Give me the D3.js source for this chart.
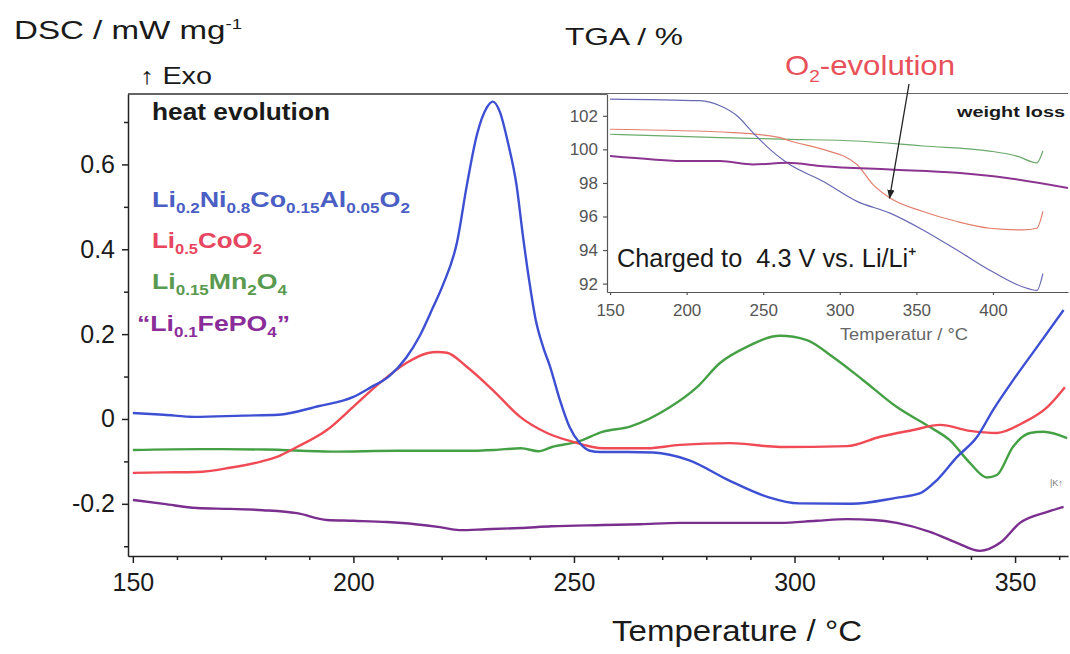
<!DOCTYPE html>
<html>
<head>
<meta charset="utf-8">
<script src="https://cdn.jsdelivr.net/npm/d3@7"></script>
<style>
  body { margin: 0; background: #fff; }
  svg { display: block; font-family: "Liberation Sans", Arial, sans-serif; }
</style>
</head>
<body>
<div id="chart"></div>
<script>
// DSC traces: [temperature °C, heat flow mW/mg]
const dscNCA = [[150, 0.014], [157, 0.010], [164, 0.005], [175, 0.008], [183, 0.010], [192, 0.030], [200, 0.052],
  [204, 0.075], [208, 0.10], [212, 0.145], [215, 0.195], [218, 0.262], [220.3, 0.316], [223.5, 0.417], [225.7, 0.55], [228, 0.67],
  [230.3, 0.735], [231.6, 0.748], [233.2, 0.724], [235, 0.653], [237, 0.55], [238.4, 0.434], [240, 0.316], [241.3, 0.235],
  [243, 0.17], [244.6, 0.123], [246.8, 0.045], [249, -0.019], [251.4, -0.058], [253.6, -0.075], [256, -0.078], [262, -0.078],
  [268, -0.079], [276, -0.097], [285, -0.144], [294, -0.184], [301, -0.199], [313, -0.2], [323, -0.186], [328.5, -0.175],
  [332.3, -0.144], [336.8, -0.09], [341.4, -0.042], [345, 0.021], [349.6, 0.092], [355, 0.17], [361, 0.257]];
const dscLCO = [[150, -0.127], [157, -0.126], [164.5, -0.125], [172, -0.115], [178.8, -0.101], [183, -0.088], [187.2, -0.066],
  [194, -0.026], [199.9, 0.028], [206, 0.085], [212, 0.132], [216.7, 0.155], [219, 0.158], [221.2, 0.156], [225.7, 0.123],
  [231.6, 0.068], [237.8, 0.005], [243.9, -0.033], [249.8, -0.054], [256.6, -0.069], [266.6, -0.069], [274, -0.061],
  [285.4, -0.057], [296.7, -0.066], [311.9, -0.064], [319.4, -0.042], [326.9, -0.026], [333, -0.014], [339.8, -0.028],
  [345.9, -0.033], [351.8, -0.009], [357.3, 0.028], [361.3, 0.075]];
const dscLMO = [[150, -0.073], [165, -0.071], [180, -0.072], [195, -0.077], [210, -0.075], [225, -0.075], [232, -0.073],
  [238, -0.069], [242, -0.076], [245, -0.066], [250.7, -0.054], [256.6, -0.030], [262.7, -0.018], [271.8, 0.028],
  [277.9, 0.075], [283.1, 0.132], [289.2, 0.17], [296.7, 0.196], [302.8, 0.186], [308.7, 0.146], [315.5, 0.092],
  [323.2, 0.028], [330.7, -0.019], [335.2, -0.05], [339.8, -0.104], [343.6, -0.138], [345.9, -0.132], [349.5, -0.066],
  [353.4, -0.033], [356.4, -0.03], [361.8, -0.045]];
const dscLFP = [[150, -0.191], [157, -0.2], [164.5, -0.21], [172, -0.212], [179.5, -0.215], [187.2, -0.222], [194, -0.238],
  [200, -0.24], [207.6, -0.243], [214, -0.248], [219.6, -0.255], [224, -0.262], [230, -0.26], [237.8, -0.257], [245, -0.253],
  [256.6, -0.25], [265, -0.248], [274, -0.245], [285, -0.245], [296.7, -0.245], [305, -0.24], [311.9, -0.236], [318, -0.238],
  [323.2, -0.245], [330.7, -0.266], [336.8, -0.292], [342, -0.311], [346.6, -0.292], [351.1, -0.245], [357.3, -0.219], [361, -0.207]];

// TGA traces (inset): [temperature °C, mass %]
const tgaNCA = [[150, 103.0], [208.7, 102.9], [221.8, 102.6], [232.9, 102.0], [243.3, 101.0], [254.4, 100.0], [265.5, 99.2],
  [289, 98.1], [311.2, 96.9], [332.8, 96.2], [354.3, 95.2], [376.5, 94.0], [398, 92.8], [419.6, 91.8], [428.7, 91.6], [432.6, 92.6]];
const tgaLCO = [[150, 101.2], [230.3, 101.0], [261, 100.7], [267.5, 100.5], [289, 100.0], [311.2, 99.1], [321.7, 97.9],
  [332.8, 97.1], [354.3, 96.3], [376.5, 95.7], [398, 95.3], [419.6, 95.2], [428.7, 95.3], [432.6, 96.3]];
const tgaLMO = [[150, 100.9], [221.8, 100.7], [267.5, 100.6], [311.2, 100.5], [354.3, 100.2], [398, 99.9], [415.7, 99.6],
  [428.7, 99.2], [432.6, 99.9]];
const tgaLFP = [[150, 99.6], [178, 99.4], [200.3, 99.3], [221.8, 99.3], [243.3, 99.1], [265.5, 99.2], [289, 99.0],
  [332.8, 98.8], [376.5, 98.6], [409.1, 98.3], [449, 97.7]];

const dscTicks = [-0.2, 0, 0.2, 0.4, 0.6];
const dscMinor = [-0.3, -0.1, 0.1, 0.3, 0.5, 0.7];
const tempTicks = [150, 200, 250, 300, 350];
const tempMinor = d3.range(160, 361, 10).filter(t => t % 50 !== 0);
const tgaTicks = [92, 94, 96, 98, 100, 102];
const tgaTempTicks = [150, 200, 250, 300, 350, 400];

const legendLabels = [
  [["Li"], ["0.2", "sub"], ["Ni"], ["0.8", "sub"], ["Co"], ["0.15", "sub"], ["Al"], ["0.05", "sub"], ["O"], ["2", "sub"]],
  [["Li"], ["0.5", "sub"], ["CoO"], ["2", "sub"]],
  [["Li"], ["0.15", "sub"], ["Mn"], ["2", "sub"], ["O"], ["4", "sub"]],
  [["\u201CLi"], ["0.1", "sub"], ["FePO"], ["4", "sub"], ["\u201D"]]
];

const width = 1070, height = 654;

const svg = d3.select("#chart").append("svg")
  .attr("width", width)
  .attr("height", height);

const x = d3.scaleLinear().domain([148.9, 362]).range([128, 1068]);
const y = d3.scaleLinear().domain([-0.323, 0.766]).range([556, 94]);

const xi = d3.scaleLinear().domain([148, 449]).range([607, 1068]);
const yi = d3.scaleLinear().domain([91.5, 103.3]).range([292, 94]);

const defs = svg.append("defs");
defs.append("clipPath").attr("id", "plotclip")
  .append("rect")
  .attr("x", x.range()[0]).attr("y", y.range()[1])
  .attr("width", x.range()[1] - x.range()[0]).attr("height", y.range()[0] - y.range()[1]);

defs.append("marker")
  .attr("id", "head").attr("viewBox", "0 0 10 10")
  .attr("refX", 9).attr("refY", 5)
  .attr("markerWidth", 7).attr("markerHeight", 7)
  .attr("orient", "auto")
  .append("path").attr("d", "M0,1 L10,5 L0,9 Z").attr("fill", "#222");

// rich text with subscripts
function richText(sel, parts, subSize, shift) {
  let down = false;
  parts.forEach(p => {
    const t = sel.append("tspan").text(p[0]);
    if (p[1] === "sub") {
      t.attr("font-size", subSize);
      if (!down) t.attr("dy", shift);
      down = true;
    } else if (down) {
      t.attr("dy", -shift);
      down = false;
    }
  });
}

// text stretched to the width it has in the figure
function fitText(px, py, size, len) {
  return svg.append("text").attr("x", px).attr("y", py)
    .attr("font-size", size).attr("fill", "#1a1a1a")
    .attr("textLength", len).attr("lengthAdjust", "spacingAndGlyphs");
}

// main DSC curves
const line = d3.line().x(d => x(d[0])).y(d => y(d[1])).curve(d3.curveMonotoneX);
const dscSeries = [
  { data: dscLFP, color: "#7a2e8e" },
  { data: dscLMO, color: "#45a045" },
  { data: dscLCO, color: "#f04a55" },
  { data: dscNCA, color: "#3d4fd2" }
];
svg.append("g").attr("clip-path", "url(#plotclip)")
  .selectAll("path")
  .data(dscSeries)
  .join("path")
  .attr("d", d => line(d.data))
  .attr("fill", "none")
  .attr("stroke", d => d.color)
  .attr("stroke-width", 2.4)
  .attr("stroke-linejoin", "round");

// axes
const gx = svg.append("g").attr("transform", `translate(0,${y.range()[0]})`)
  .call(d3.axisBottom(x).tickValues(tempTicks).tickSize(7).tickSizeOuter(0).tickPadding(10));
svg.append("g").attr("transform", `translate(0,${y.range()[0]})`)
  .call(d3.axisBottom(x).tickValues(tempMinor).tickSize(4).tickFormat("")).select(".domain").remove();
const gy = svg.append("g").attr("transform", `translate(${x.range()[0]},0)`)
  .call(d3.axisLeft(y).tickValues(dscTicks).tickSize(6).tickSizeOuter(0).tickPadding(7)
    .tickFormat(d => d === 0 ? "0" : d.toFixed(1)));
svg.append("g").attr("transform", `translate(${x.range()[0]},0)`)
  .call(d3.axisLeft(y).tickValues(dscMinor).tickSize(4).tickFormat("")).select(".domain").remove();

svg.selectAll(".domain, .tick line").attr("stroke", "#222").attr("stroke-width", 1.5);
[gx, gy].forEach(g => g.selectAll("text").attr("font-size", 25).attr("fill", "#1a1a1a")
  .attr("font-family", "Liberation Sans, Arial, sans-serif"));

svg.append("line")
  .attr("x1", x.range()[0]).attr("x2", x.range()[1])
  .attr("y1", y.range()[1]).attr("y2", y.range()[1])
  .attr("stroke", "#333").attr("stroke-width", 1.5);

// inset TGA
svg.append("rect")
  .attr("x", xi.range()[0]).attr("y", yi.range()[1])
  .attr("width", xi.range()[1] - xi.range()[0]).attr("height", yi.range()[0] - yi.range()[1])
  .attr("fill", "#fff");

const iline = d3.line().x(d => xi(d[0])).y(d => yi(d[1])).curve(d3.curveMonotoneX);
const tgaSeries = [
  { data: tgaLMO, color: "#6aaa6a", w: 1.2 },
  { data: tgaLCO, color: "#e2806e", w: 1.2 },
  { data: tgaNCA, color: "#6868b4", w: 1.2 },
  { data: tgaLFP, color: "#8b3590", w: 2 }
];
svg.append("g").selectAll("path")
  .data(tgaSeries)
  .join("path")
  .attr("d", d => iline(d.data))
  .attr("fill", "none")
  .attr("stroke", d => d.color)
  .attr("stroke-width", d => d.w);

const gyi = svg.append("g").attr("transform", `translate(${xi.range()[0]},0)`)
  .call(d3.axisLeft(yi).tickValues(tgaTicks).tickSize(4).tickSizeOuter(0).tickPadding(5));
const gxi = svg.append("g").attr("transform", `translate(0,${yi.range()[0]})`)
  .call(d3.axisBottom(xi).tickValues(tgaTempTicks).tickSize(3).tickSizeOuter(0).tickPadding(9));
[gyi, gxi].forEach(g => {
  g.selectAll(".domain, .tick line").attr("stroke", "#555").attr("stroke-width", 1.2);
  g.selectAll("text").attr("font-size", 17).attr("fill", "#555")
    .attr("font-family", "Liberation Sans Narrow, Arial Narrow, Liberation Sans, sans-serif");
});

fitText(840, 340, 17, 128).attr("fill", "#666").text("Temperatur / °C");

fitText(957, 117, 14, 108).attr("font-weight", "bold").text("weight loss");

fitText(617, 267, 26, 300)
  .style("white-space", "pre")
  .text("Charged to  4.3 V vs. Li/Li\u207A");

// O2 evolution arrow
svg.append("line")
  .attr("x1", 909).attr("y1", 84)
  .attr("x2", xi(332.5)).attr("y2", yi(97.1))
  .attr("stroke", "#222").attr("stroke-width", 1.3)
  .attr("marker-end", "url(#head)");

const o2 = fitText(785, 75, 28, 170).attr("fill", "#e8505a");
richText(o2, [["O"], ["2", "sub"], ["-evolution"]], 17, 7);

// titles
const dsc = fitText(14, 39, 25, 228);
dsc.append("tspan").text("DSC / mW mg");
dsc.append("tspan").attr("font-size", 14).attr("dy", -10).text("-1");

fitText(140, 84, 23, 72).text("\u2191 Exo");

fitText(565, 45, 24, 118).text("TGA / %");

fitText(152, 120, 23, 178).attr("font-weight", "bold").text("heat evolution");

fitText(612, 641, 29, 250).text("Temperature / °C");

// legend
const legendColors = ["#4a5ec4", "#e8455f", "#5a9a50", "#8a2d98"];
const legendX = [152, 152, 152, 137];
const legendY = [207, 248, 289, 331];
const legendW = [258, 110, 135, 153];
legendLabels.forEach((parts, i) => {
  const t = fitText(legendX[i], legendY[i], 22, legendW[i])
    .attr("font-weight", "bold").attr("fill", legendColors[i]);
  richText(t, parts, 14, 6);
});

// small marker label near the end of the purple trace
svg.append("text").attr("x", 1050).attr("y", 486)
  .attr("font-size", 9).attr("fill", "#777").text("|K\u2191");
</script>
</body>
</html>
